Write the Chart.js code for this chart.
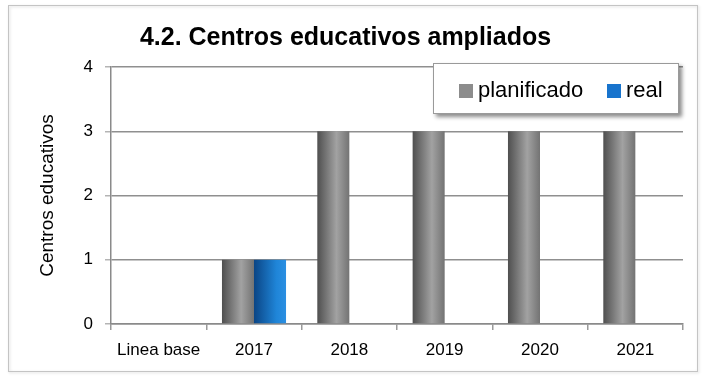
<!DOCTYPE html>
<html>
<head>
<meta charset="utf-8">
<script src="https://cdn.jsdelivr.net/npm/chart.js@4"></script>
<style>
  html, body { margin: 0; padding: 0; background: #fff; }
  #wrap { width: 704px; height: 383px; }
</style>
</head>
<body>
<div id="wrap"><canvas id="centrosChart" width="704" height="383"></canvas></div>
<script>
// datos del indicador 4.2
const categorias = ['Linea base', '2017', '2018', '2019', '2020', '2021'];
const planificado = [0, 1, 3, 3, 3, 3];
const real = [0, 1, null, null, null, null];
const ejeY = { min: 0, max: 4, paso: 1 };

const FONT = "'Liberation Sans', Arial, sans-serif";
const CAT_PCT = 0.672;

// colores base (leyenda) y degradados de las barras
const colores = {
  planificado: { base: '#8c8c8c', stops: [[0, '#4f4f4f'], [0.6, '#a2a2a2'], [1, '#737373']] },
  real: { base: '#1874cd', stops: [[0, '#0b4585'], [0.7, '#1f85d8'], [1, '#2b8fe2']] }
};

function degradado(key) {
  return function (ctx) {
    const c = colores[key];
    const chart = ctx.chart;
    const x = chart.scales && chart.scales.x;
    if (!x || ctx.dataIndex === undefined || !chart.chartArea) return c.base;
    const catW = (x.right - x.left) / categorias.length;
    const barW = catW * CAT_PCT / 2;
    const left = x.getPixelForValue(ctx.dataIndex) - barW + ctx.datasetIndex * barW;
    const g = chart.ctx.createLinearGradient(left, 0, left + barW, 0);
    c.stops.forEach(s => g.addColorStop(s[0], s[1]));
    return g;
  };
}

// marco exterior del gráfico
const marco = {
  id: 'marco',
  beforeDraw(chart) {
    const ctx = chart.ctx;
    ctx.save();
    ctx.fillStyle = '#fff';
    ctx.fillRect(0, 0, chart.width, chart.height);
    ctx.shadowColor = 'rgba(0,0,0,0.18)';
    ctx.shadowBlur = 3;
    ctx.shadowOffsetX = 1;
    ctx.shadowOffsetY = 1;
    ctx.strokeStyle = '#c4c4c4';
    ctx.lineWidth = 1;
    ctx.strokeRect(8.5, 5.5, 689, 366);
    ctx.restore();
  }
};

// leyenda en recuadro sobre el área de trazado
const leyenda = {
  id: 'leyenda',
  afterDatasetsDraw(chart) {
    const ctx = chart.ctx;
    const bx = 433, by = 63, bw = 246, bh = 51;
    ctx.save();
    ctx.shadowColor = 'rgba(0,0,0,0.45)';
    ctx.shadowBlur = 4;
    ctx.shadowOffsetX = 3;
    ctx.shadowOffsetY = 3;
    ctx.fillStyle = '#fff';
    ctx.fillRect(bx, by, bw, bh);
    ctx.shadowColor = 'transparent';
    ctx.strokeStyle = '#9a9a9a';
    ctx.lineWidth = 1;
    ctx.strokeRect(bx + 0.5, by + 0.5, bw - 1, bh - 1);

    ctx.font = '22px ' + FONT;
    ctx.textBaseline = 'alphabetic';
    ctx.fillStyle = '#000';
    const items = [
      { texto: chart.data.datasets[0].label, color: colores.planificado.base, sx: 459, tx: 478 },
      { texto: chart.data.datasets[1].label, color: colores.real.base, sx: 607, tx: 626 }
    ];
    items.forEach(it => {
      ctx.fillStyle = it.color;
      ctx.fillRect(it.sx, 84, 14, 14);
      ctx.fillStyle = '#000';
      ctx.fillText(it.texto, it.tx, 97);
    });
    ctx.restore();
  }
};

new Chart(document.getElementById('centrosChart'), {
  type: 'bar',
  data: {
    labels: categorias,
    datasets: [
      { label: 'planificado', data: planificado, backgroundColor: degradado('planificado') },
      { label: 'real', data: real, backgroundColor: degradado('real') }
    ]
  },
  options: {
    responsive: false,
    animation: false,
    events: [],
    categoryPercentage: CAT_PCT,
    barPercentage: 1,
    layout: { padding: { top: 10, left: 8, right: 21, bottom: 14 } },
    plugins: {
      legend: { display: false },
      tooltip: { enabled: false },
      title: {
        display: true,
        text: '4.2. Centros educativos ampliados',
        color: '#000',
        font: { family: FONT, size: 25, weight: 'bold', lineHeight: 1.2 },
        padding: { top: 13, bottom: 14 }
      }
    },
    scales: {
      x: {
        grid: { display: true, drawOnChartArea: false, drawTicks: true, tickLength: 6, color: '#9a9a9a', lineWidth: 1.5, offset: true },
        border: { display: true, color: '#8a8a8a', width: 1.5 },
        ticks: { color: '#000', padding: 10, font: { family: FONT, size: 17 } },
        afterFit(scale) { scale.height = 45; }
      },
      y: {
        min: ejeY.min,
        max: ejeY.max,
        grid: { color: '#8f8f8f', lineWidth: 1.5, tickColor: '#b4b4b4', tickLength: 6 },
        border: { display: true, color: '#8a8a8a', width: 1.5 },
        ticks: { stepSize: ejeY.paso, color: '#000', padding: 12, font: { family: FONT, size: 17 } },
        title: {
          display: true,
          text: 'Centros educativos',
          color: '#000',
          font: { family: FONT, size: 19, lineHeight: 1.2 },
          padding: { top: 28, bottom: 0 }
        },
        afterFit(scale) { scale.width = 103; }
      }
    }
  },
  plugins: [marco, leyenda]
});
</script>
</body>
</html>
